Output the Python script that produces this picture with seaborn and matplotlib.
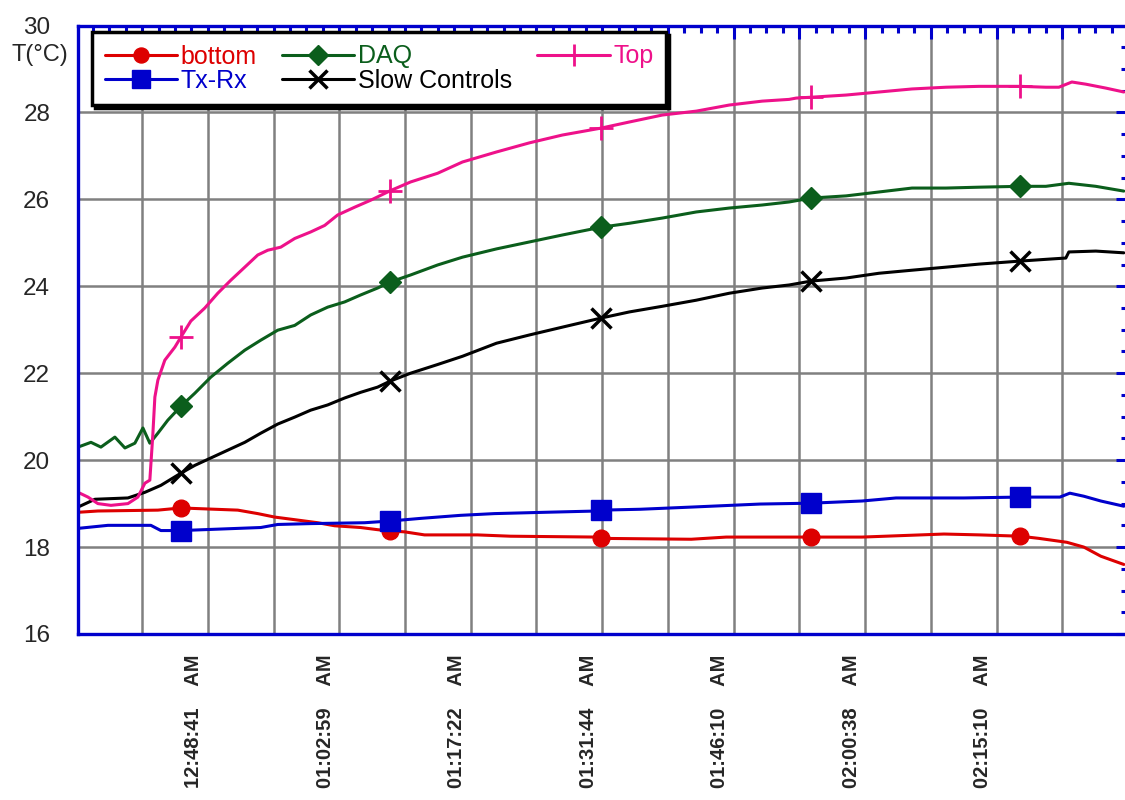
import numpy as np
import pandas as pd
import matplotlib
matplotlib.use('Agg')
import matplotlib.pyplot as plt
import matplotlib.transforms as mtransforms
from matplotlib.ticker import AutoMinorLocator, FixedLocator, FixedFormatter, MultipleLocator
from matplotlib.lines import Line2D
import seaborn as sns

# minutes after 12:48:41 AM, values in deg C
top_t = [-14.22, -13.13, -12.04, -10.61, -8.75, -7.66, -6.89, -6.35, -6.02, -5.80, -5.47, -4.71,
         -3.61, -2.95, -1.86, -0.33, 1.09, 2.52, 4.05, 5.47, 6.57, 7.99, 9.52, 11.27, 12.80, 14.22,
         16.09, 17.84, 20.0, 22.21, 25.17, 27.90, 31.62, 35.23, 38.84, 43.1, 46.18, 49.79, 53.51,
         57.12, 60.73, 63.68, 64.45, 66.1, 69.92, 73.53, 77.14, 80.86, 84.47, 89.0, 91.80, 93.23,
         94.65, 96.18, 98.37, 100.34]
top_v = [19.26, 19.15, 19.0, 18.96, 19.0, 19.15, 19.47, 19.54, 20.6, 21.45, 21.84, 22.3,
         22.6, 22.83, 23.2, 23.5, 23.84, 24.14, 24.44, 24.72, 24.83, 24.9, 25.1, 25.25, 25.4, 25.64,
         25.82, 25.98, 26.2, 26.4, 26.6, 26.86, 27.09, 27.3, 27.48, 27.64, 27.78, 27.94, 28.03,
         28.17, 28.26, 28.3, 28.33, 28.35, 28.4, 28.47, 28.54, 28.58, 28.6, 28.6, 28.58, 28.58,
         28.7, 28.65, 28.56, 28.47]

daq_t = [-14.22, -12.80, -11.71, -10.18, -9.08, -7.99, -7.11, -6.35, -5.47, -4.38, -2.95, -1.42,
         0.33, 2.19, 4.05, 5.80, 7.66, 9.52, 11.27, 13.13, 14.99, 16.74, 18.60, 20.0, 22.21, 25.17,
         27.90, 31.62, 35.23, 38.84, 43.1, 46.18, 49.79, 53.51, 57.12, 60.73, 63.68, 66.1, 69.92,
         73.53, 77.14, 80.86, 84.47, 89.0, 91.80, 94.32, 97.27, 100.34]
daq_v = [20.3, 20.41, 20.3, 20.53, 20.28, 20.39, 20.74, 20.39, 20.62, 20.92, 21.24, 21.54,
         21.91, 22.23, 22.53, 22.76, 22.99, 23.1, 23.34, 23.52, 23.64, 23.8, 23.96, 24.1, 24.26, 24.49,
         24.67, 24.86, 25.02, 25.18, 25.36, 25.45, 25.57, 25.71, 25.8, 25.87, 25.94, 26.03, 26.08,
         26.17, 26.26, 26.26, 26.28, 26.3, 26.3, 26.37, 26.3, 26.19]

slow_t = [-14.22, -12.36, -8.75, -6.89, -5.14, -2.95, -1.42, 0.33, 2.19, 4.05, 5.80, 7.66,
          9.52, 11.27, 13.13, 14.99, 16.74, 18.60, 20.0, 22.21, 25.17, 27.90, 31.62, 35.23, 38.84,
          43.1, 46.18, 49.79, 53.51, 57.12, 60.73, 63.68, 66.1, 69.92, 73.53, 77.14, 80.86, 84.47,
          89.0, 91.80, 93.99, 94.32, 97.27, 100.34]
slow_v = [18.92, 19.1, 19.13, 19.26, 19.42, 19.7, 19.88, 20.05, 20.23, 20.41, 20.62, 20.83,
          20.99, 21.15, 21.27, 21.43, 21.56, 21.68, 21.82, 22.0, 22.2, 22.39, 22.69, 22.88, 23.06,
          23.27, 23.41, 23.54, 23.68, 23.84, 23.96, 24.03, 24.12, 24.19, 24.3, 24.37, 24.44, 24.51,
          24.58, 24.62, 24.65, 24.79, 24.81, 24.77]

bottom_t = [-14.22, -12.04, -5.47, -2.95, 3.28, 5.47, 7.33, 9.52, 12.04, 13.90, 16.74, 18.60,
            20.0, 21.56, 23.74, 29.54, 33.15, 42.67, 43.1, 52.96, 56.79, 66.1, 71.67, 80.64,
            84.58, 89.0, 91.04, 94.10, 95.96, 97.82, 100.34]
bottom_v = [18.8, 18.83, 18.85, 18.9, 18.85, 18.77, 18.69, 18.63, 18.56, 18.49, 18.45, 18.4,
            18.37, 18.35, 18.28, 18.28, 18.25, 18.23, 18.2, 18.18, 18.23, 18.23, 18.23, 18.3,
            18.28, 18.25, 18.2, 18.11, 18.0, 17.79, 17.6]

txrx_t = [-14.22, -10.94, -6.24, -5.14, -2.95, 5.80, 7.66, 11.27, 17.18, 20.0, 23.31, 27.68,
          31.40, 36.87, 42.67, 43.1, 47.38, 52.96, 60.51, 66.1, 71.67, 75.39, 82.83, 89.0,
          93.34, 94.43, 95.96, 97.82, 100.34]
txrx_v = [18.43, 18.5, 18.5, 18.38, 18.38, 18.45, 18.52, 18.54, 18.56, 18.6, 18.66, 18.73,
          18.77, 18.8, 18.83, 18.85, 18.87, 18.92, 18.99, 19.01, 19.06, 19.13, 19.13, 19.15,
          19.15, 19.24, 19.17, 19.06, 18.94]

marker_times = [-2.95, 20.0, 43.1, 66.1, 89.0]

time_labels = ['12:48:41', '01:02:59', '01:17:22', '01:31:44', '01:46:10', '02:00:38', '02:15:10']

series = [
    ('bottom', bottom_t, bottom_v, '#dd0000', 'o', 12, 1),
    ('Tx-Rx', txrx_t, txrx_v, '#0000cc', 's', 15, 1),
    ('DAQ', daq_t, daq_v, '#0b5e1c', 'D', 11, 1),
    ('Slow Controls', slow_t, slow_v, '#000000', 'x', 14, 2.5),
    ('Top', top_t, top_v, '#ee118a', '+', 17, 2),
]

sns.set_style('white')
plt.rcParams['font.family'] = ['Liberation Sans', 'DejaVu Sans']

fig = plt.figure(figsize=(11.25, 8), dpi=100)
ax = fig.add_axes([78 / 1125, 1 - 634 / 800, (1128 - 78) / 1125, (634 - 25.5) / 800])

for name, t, v, color, mk, ms, mew in series:
    df = pd.DataFrame({'t': t, 'v': v})
    sns.lineplot(data=df, x='t', y='v', ax=ax, color=color, lw=2.2, sort=False,
                 estimator=None, zorder=3)
    pts = df[df['t'].isin(marker_times)]
    ax.plot(pts['t'], pts['v'], ls='none', marker=mk, ms=ms, mew=mew, color=color, zorder=4)

ax.set_xlim(-14.22, 100.8)
ax.set_ylim(16, 30)
ax.set_xlabel('')
ax.set_ylabel('')

# x ticks every 7.2 min, label every second one
major = np.arange(-7.2, 101, 7.2)
labels = []
j = 0
for k in range(len(major)):
    if k % 2 == 1 and j < len(time_labels):
        labels.append(time_labels[j] + '    AM')
        j += 1
    else:
        labels.append('')
ax.xaxis.set_major_locator(FixedLocator(major))
ax.xaxis.set_major_formatter(FixedFormatter(labels))
ax.xaxis.set_minor_locator(AutoMinorLocator(4))
ax.yaxis.set_major_locator(MultipleLocator(2))
ax.yaxis.set_minor_locator(AutoMinorLocator(4))

blue = '#0000cc'
ax.tick_params(which='both', direction='in', top=True, right=True, color=blue, width=2.2)
ax.tick_params(which='major', length=9)
ax.tick_params(which='minor', length=5)
ax.tick_params(axis='y', labelsize=17.5, pad=20)
ax.tick_params(axis='x', labelsize=14.5, pad=15)
for lab in ax.get_xticklabels():
    lab.set_rotation(90)
    lab.set_fontweight('bold')
    lab.set_va('top')
    lab.set_ha('center')
    lab.set_transform(lab.get_transform() +
                      mtransforms.ScaledTranslation(-14 / 100, 0, fig.dpi_scale_trans))

for sp in ax.spines.values():
    sp.set_color(blue)
    sp.set_linewidth(2.4)
    sp.set_zorder(5)

ax.grid(which='major', color='#808080', lw=1.8)
ax.set_axisbelow(True)

fig.text(12 / 1125, 1 - 55 / 800, 'T(°C)', fontsize=17, va='center', ha='left')

handles = [Line2D([], [], color=c, lw=2.2, marker=mk, ms=ms * 0.9, mew=mew)
           for _, _, _, c, mk, ms, mew in series]
leg = ax.legend(handles, [s[0] for s in series], ncol=3, loc='upper left',
                bbox_to_anchor=(92 / 1125, 1 - 32 / 800), bbox_transform=fig.transFigure,
                fontsize=18, handlelength=2.9, handletextpad=0.15, columnspacing=1.0,
                labelspacing=0.0, borderpad=0.5, borderaxespad=0, fancybox=False,
                edgecolor='black', framealpha=1, labelcolor='linecolor',
                shadow={'color': 'black', 'alpha': 1})
leg.get_frame().set_linewidth(2.5)
leg.set_zorder(10)

fig.savefig('out.png', dpi=100)
